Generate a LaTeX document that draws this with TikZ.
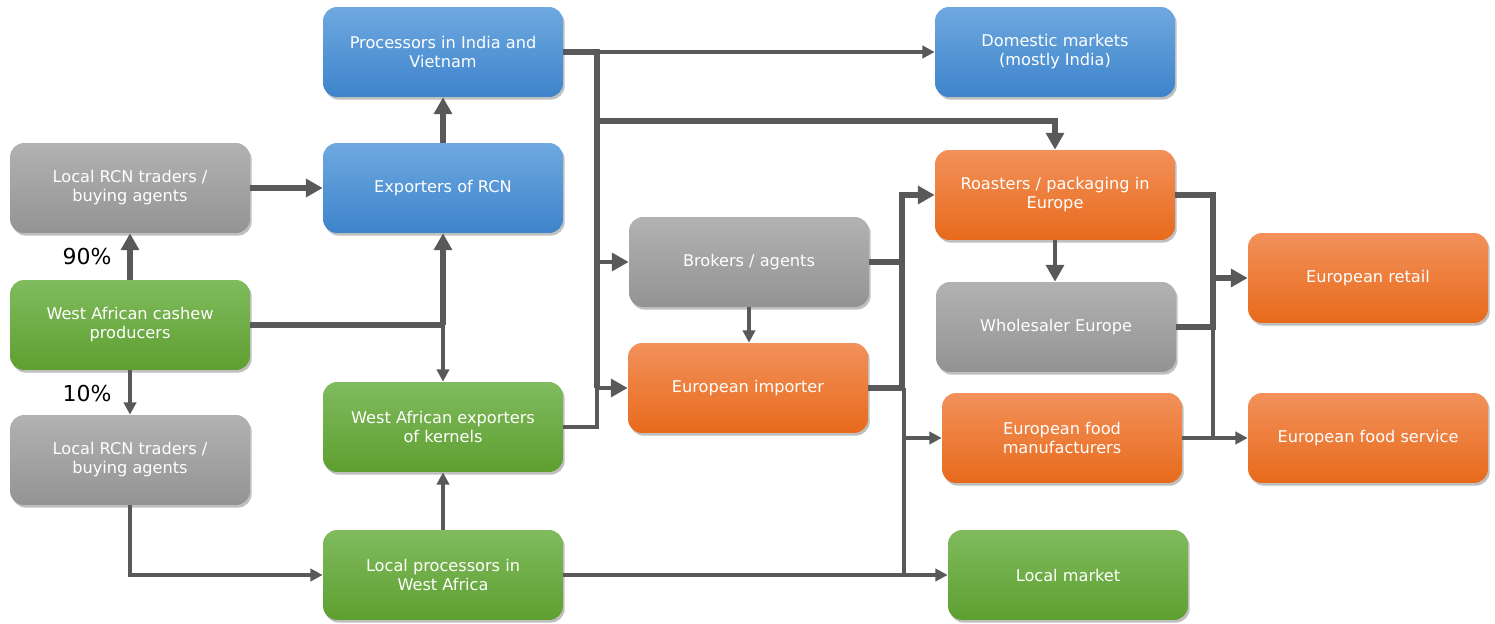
\documentclass[tikz,border=0pt]{standalone}
\usepackage{fontspec}
\setmainfont{DejaVu Sans}
\usetikzlibrary{arrows.meta,shadows}
\definecolor{cblue}{HTML}{6EA8E0}
\definecolor{cblued}{HTML}{3E84CB}
\definecolor{cgreen}{HTML}{80BB5E}
\definecolor{cgreend}{HTML}{5E9F30}
\definecolor{cgray}{HTML}{B2B2B2}
\definecolor{cgrayd}{HTML}{939393}
\definecolor{corange}{HTML}{F2915A}
\definecolor{coranged}{HTML}{E86A1C}
\definecolor{lgray}{HTML}{595959}
\tikzset{
  % shaded box, lighter on top
  blk/.style   = {rectangle, rounded corners=8pt, top color=#1, bottom color=#1d,
                  text=white, align=center,
                  minimum width=4.8cm, minimum height=1.8cm,
                  font=\fontsize{9.2}{10.8}\selectfont,
                  drop shadow={shadow xshift=1pt, shadow yshift=-1.5pt, opacity=0.25, fill=black}},
  blk/.default = cgray,
  ln/.style    = {draw=lgray, line width=2pt},
  mid/.style   = {draw=lgray, line width=2.8pt},
  thk/.style   = {draw=lgray, line width=3.6pt},
  arr/.style   = {-{Triangle[length=7pt,width=7pt]}},
  big/.style   = {-{Triangle[length=9.5pt,width=10pt]}},
  pct/.style   = {font=\fontsize{12.5}{14}\selectfont, text=black},
}
\begin{document}
\begin{tikzpicture}[x=0.02cm,y=-0.02cm]
\useasboundingbox (0,0) rectangle (1495,624);
% boxes
\node[blk=cblue]   (proc)   at (443,52)  {Processors in India and\\Vietnam};
\node[blk=cblue]   (dom)    at (1055,52) {Domestic markets\\(mostly India)};
\node[blk]         (tradU)  at (130,188) {Local RCN traders /\\buying agents};
\node[blk=cblue]   (expRCN) at (443,188) {Exporters of RCN};
\node[blk=corange] (roast)  at (1055,195) {Roasters / packaging in\\Europe};
\node[blk]         (brok)   at (749,262) {Brokers / agents};
\node[blk=corange] (retail) at (1368,278) {European retail};
\node[blk=cgreen]  (prod)   at (130,325) {West African cashew\\producers};
\node[blk]         (whole)  at (1056,327) {Wholesaler Europe};
\node[blk=corange] (imp)    at (748,388) {European importer};
\node[blk=cgreen]  (expK)   at (443,427) {West African exporters\\of kernels};
\node[blk=corange] (foodm)  at (1062,438) {European food\\manufacturers};
\node[blk=corange] (fserv)  at (1368,438) {European food service};
\node[blk]         (tradL)  at (130,460) {Local RCN traders /\\buying agents};
\node[blk=cgreen]  (locp)   at (443,575) {Local processors in\\West Africa};
\node[blk=cgreen]  (locm)   at (1068,575) {Local market};
% west africa side
\draw[thk,big] (prod.north) -- (tradU.south);
\draw[ln,arr] (prod.south) -- (tradL.north);
\node[pct] (p90) at (87,257) {90\%};
\node[pct] (p10) at (87,394) {10\%};
\draw[thk,big] (tradU.east) -- (expRCN.west);
\coordinate (pj) at (443,325);
\draw[thk] (prod.east) -- (pj);
\draw[thk,big] (pj) -- (expRCN.south);
\draw[ln,arr] (pj) -- (expK.north);
\draw[thk,big] (expRCN.north) -- (proc.south);
\draw[ln,arr] (tradL.south) |- (locp.west);
\draw[ln,arr] (locp.north) -- (expK.south);
\draw[ln,arr] (locp.east) -- (locm.west);
% trunk to europe
\coordinate (tA) at (597,52);
\coordinate (tB) at (597,388);
\coordinate (tC) at (597,121);
\draw[thk] (proc.east) -- (tA) -- (tB);
\draw[ln,arr] (tA) -- (dom.west);
\draw[thk,big] (tC) -| (roast.north);
\draw[mid,big] (tA |- brok.west) -- (brok.west);
\draw[mid,big] (tB) -- (imp.west);
\draw[ln] (expK.east) -| (tB);
\draw[ln,arr] (brok.south) -- (brok.south |- imp.north);
% importers to europe
\coordinate (rA) at (902,195);
\coordinate (rB) at (904,388);
\draw[thk] (brok.east) -- (brok.east -| rA);
\draw[thk,big] (imp.east) -| (rA) -- (roast.west);
\draw[ln] (rB) -- (rB |- locm.west);
\draw[ln,arr] (rB |- foodm.west) -- (foodm.west);
\draw[mid,big] (roast.south) -- (roast.south |- whole.north);
% to retail and food service
\coordinate (sA) at (1213,195);
\draw[thk] (roast.east) -| (sA |- whole.east) -- (whole.east);
\draw[thk,big] (sA |- retail.west) -- (retail.west);
\draw[ln] (sA |- whole.east) -- (sA |- fserv.west);
\draw[ln,arr] (foodm.east) -- (fserv.west);
\end{tikzpicture}
\end{document}
